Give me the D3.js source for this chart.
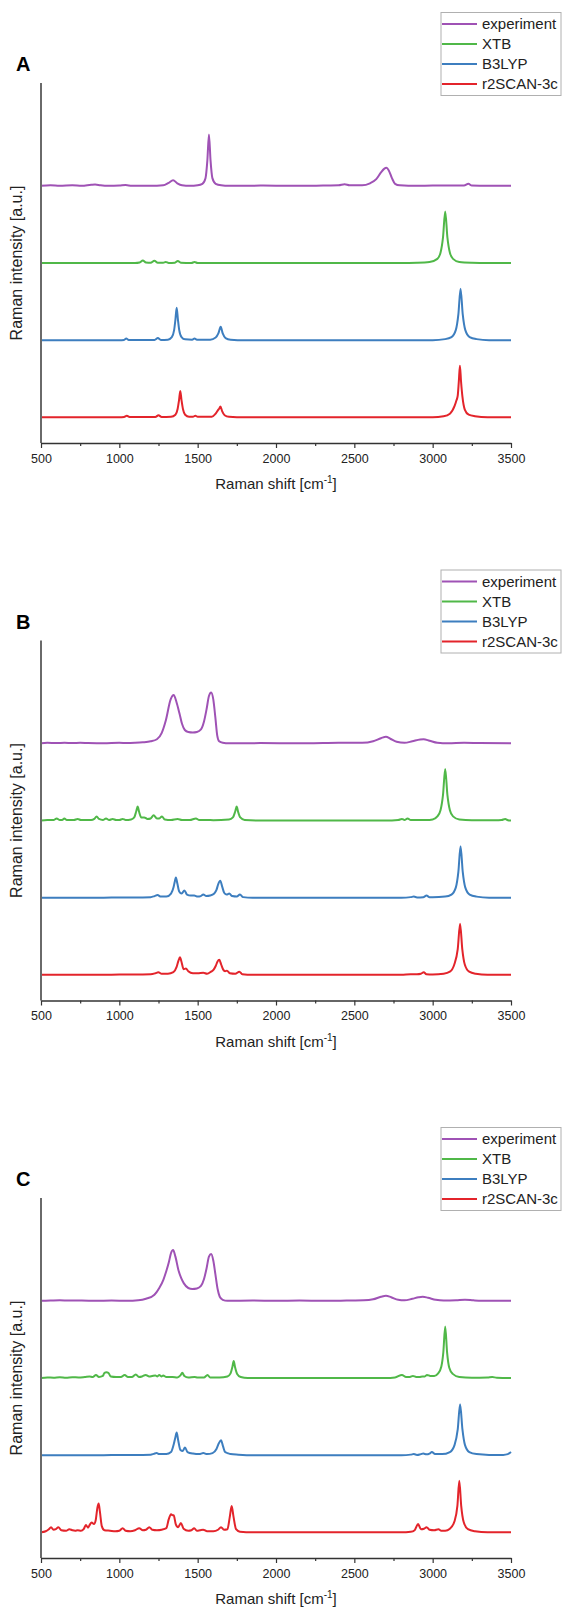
<!DOCTYPE html>
<meta charset="utf-8">
<script src="https://d3js.org/d3.v7.min.js"></script>
<style>
  body { margin: 0; background: #fff; }
  text { font-family: "Liberation Sans", Arial, sans-serif; }
</style>
<div id="chart"></div>
<script>

// ---- data ----
var seriesNames = ["experiment", "XTB", "B3LYP", "r2SCAN-3c"];
var seriesOffsets = [5, 3.5, 2, 0.5];   // vertical stacking of the traces
var panelLabels = ["A", "B", "C"];
var majorTicks = [500, 1000, 1500, 2000, 2500, 3000, 3500];
var minorTicks = [750, 1250, 1750, 2250, 2750, 3250];

// panel A
var expA = [[500,0],[560,0.01],[620,0],[700,0.01],[760,0],[820,0.02],[845,0.025],[880,0.01],[930,0],[1000,0.005],[1040,0.015],[1080,0],[1200,0],[1280,0.01],[1315,0.06],[1343,0.11],[1370,0.05],[1400,0.01],[1450,0],[1500,0.01],[1530,0.04],[1550,0.15],[1562,0.5],[1572,1.0],[1582,0.5],[1594,0.15],[1615,0.04],[1650,0.01],[1700,0],[1900,0.005],[2100,0],[2300,0.005],[2400,0.01],[2438,0.03],[2470,0.01],[2550,0.01],[2600,0.05],[2640,0.13],[2670,0.26],[2690,0.33],[2705,0.35],[2720,0.3],[2740,0.15],[2760,0.04],[2790,0.01],[2900,0],[3000,0.005],[3200,0.005],[3228,0.04],[3250,0.005],[3350,0],[3500,0]];
var xtbA = [[500,0],[1100,0],[1130,0.01],[1150,0.05],[1170,0.01],[1200,0.005],[1224,0.045],[1245,0.005],[1280,0.005],[1296,0.02],[1315,0],[1355,0.005],[1373,0.04],[1392,0.005],[1460,0],[1480,0.02],[1500,0],[2800,0],[2900,0.005],[2980,0.02],[3030,0.08],[3050,0.2],[3066,0.5],[3080,1.0],[3094,0.5],[3110,0.2],[3130,0.08],[3170,0.02],[3250,0.005],[3350,0],[3500,0]];
var b3lypA = [[500,0],[1000,0],[1030,0.005],[1044,0.03],[1060,0.005],[1225,0.005],[1246,0.04],[1265,0.005],[1310,0.01],[1335,0.06],[1350,0.2],[1358,0.4],[1366,0.63],[1374,0.4],[1382,0.2],[1397,0.06],[1420,0.015],[1465,0.01],[1480,0.03],[1495,0.01],[1580,0.01],[1615,0.05],[1632,0.13],[1647,0.26],[1660,0.13],[1678,0.04],[1710,0.01],[1800,0],[3000,0],[3080,0.02],[3120,0.06],[3148,0.2],[3164,0.5],[3178,1.0],[3192,0.5],[3208,0.2],[3236,0.06],[3280,0.02],[3360,0],[3500,0]];
var r2scanA = [[500,0],[1000,0],[1030,0.005],[1048,0.03],[1065,0.005],[1230,0.005],[1250,0.04],[1270,0.005],[1330,0.01],[1358,0.05],[1372,0.16],[1381,0.33],[1389,0.51],[1397,0.33],[1406,0.16],[1420,0.05],[1445,0.01],[1470,0.01],[1485,0.03],[1500,0.01],[1590,0.01],[1612,0.06],[1630,0.14],[1638,0.17],[1645,0.21],[1656,0.12],[1672,0.04],[1700,0.01],[1800,0],[3000,0],[3070,0.02],[3110,0.07],[3140,0.22],[3152,0.33],[3160,0.42],[3167,0.7],[3174,1.0],[3181,0.7],[3190,0.4],[3205,0.15],[3230,0.05],[3270,0.02],[3350,0],[3500,0]];

// panel B
var expB = [[500,0],[540,0.01],[600,0.005],[650,0.01],[700,0.005],[750,0.01],[800,0.005],[900,0],[1000,0.01],[1050,0.005],[1100,0.01],[1150,0.02],[1200,0.04],[1240,0.08],[1270,0.2],[1297,0.45],[1327,0.85],[1347,0.94],[1365,0.8],[1384,0.58],[1400,0.38],[1418,0.26],[1440,0.22],[1469,0.21],[1495,0.22],[1521,0.27],[1540,0.42],[1556,0.65],[1572,0.92],[1586,0.99],[1600,0.85],[1613,0.5],[1625,0.15],[1637,0.04],[1660,0.01],[1700,0],[1900,0.005],[2200,0],[2400,0.01],[2550,0.01],[2620,0.04],[2670,0.1],[2702,0.13],[2730,0.09],[2770,0.03],[2820,0.01],[2870,0.04],[2920,0.075],[2942,0.08],[2980,0.05],[3030,0.01],[3100,0],[3200,0.01],[3300,0.005],[3500,0]];
var xtbB = [[500,0],[540,0.01],[580,0.01],[600,0.04],[620,0.01],[635,0.01],[649,0.04],[665,0.01],[710,0.01],[734,0.03],[755,0.01],[820,0.01],[840,0.03],[855,0.08],[870,0.03],[895,0.01],[915,0.04],[935,0.01],[957,0.03],[980,0.01],[1000,0.01],[1021,0.03],[1040,0.01],[1075,0.02],[1095,0.06],[1108,0.18],[1117,0.27],[1126,0.17],[1140,0.06],[1159,0.06],[1180,0.03],[1200,0.04],[1219,0.1],[1240,0.04],[1255,0.04],[1272,0.08],[1290,0.02],[1330,0.01],[1372,0.03],[1400,0.01],[1450,0.01],[1489,0.04],[1510,0.01],[1560,0.01],[1600,0.005],[1700,0.02],[1725,0.06],[1740,0.18],[1749,0.27],[1758,0.17],[1772,0.06],[1800,0.01],[1900,0],[2700,0],[2780,0.01],[2804,0.03],[2820,0.01],[2840,0.04],[2860,0.01],[2960,0.01],[3000,0.02],[3030,0.08],[3050,0.2],[3066,0.5],[3080,1.0],[3094,0.5],[3110,0.2],[3130,0.08],[3170,0.02],[3250,0.005],[3400,0.005],[3440,0.01],[3463,0.03],[3480,0.005],[3500,0]];
var b3lypB = [[500,0],[900,0],[1000,0.005],[1100,0.005],[1200,0.01],[1225,0.03],[1244,0.05],[1265,0.02],[1300,0.02],[1330,0.08],[1346,0.2],[1353,0.3],[1361,0.39],[1370,0.28],[1382,0.12],[1398,0.08],[1415,0.14],[1432,0.06],[1455,0.04],[1478,0.04],[1500,0.02],[1520,0.03],[1536,0.06],[1555,0.03],[1580,0.04],[1606,0.08],[1620,0.15],[1632,0.27],[1644,0.33],[1656,0.22],[1670,0.09],[1685,0.06],[1702,0.08],[1720,0.03],[1750,0.02],[1770,0.06],[1790,0.01],[1850,0],[2800,0],[2860,0.01],[2880,0.02],[2900,0.005],[2940,0.01],[2961,0.04],[2980,0.01],[3000,0.01],[3080,0.02],[3120,0.06],[3148,0.2],[3164,0.5],[3178,1.0],[3192,0.5],[3208,0.2],[3236,0.06],[3280,0.02],[3360,0],[3500,0]];
var r2scanB = [[500,0],[900,0],[1000,0.005],[1100,0.005],[1200,0.01],[1230,0.03],[1249,0.05],[1270,0.02],[1310,0.02],[1345,0.05],[1365,0.15],[1377,0.27],[1387,0.34],[1397,0.25],[1410,0.11],[1425,0.12],[1440,0.07],[1470,0.03],[1500,0.03],[1536,0.04],[1560,0.02],[1585,0.06],[1602,0.1],[1615,0.17],[1627,0.26],[1638,0.29],[1650,0.2],[1663,0.1],[1675,0.07],[1687,0.08],[1705,0.03],[1740,0.02],[1766,0.06],[1785,0.01],[1850,0],[2800,0],[2860,0.01],[2900,0.01],[2925,0.02],[2943,0.05],[2960,0.01],[3000,0.005],[3070,0.02],[3110,0.06],[3138,0.2],[3160,0.5],[3175,0.99],[3189,0.5],[3205,0.2],[3233,0.06],[3275,0.02],[3350,0],[3500,0]];

// panel C
var expC = [[500,0],[560,0.005],[620,0.01],[680,0.005],[760,0.005],[850,0],[950,0.005],[1050,0],[1120,0.01],[1170,0.04],[1224,0.12],[1255,0.25],[1281,0.41],[1300,0.58],[1316,0.75],[1330,0.93],[1343,0.99],[1358,0.86],[1377,0.6],[1395,0.44],[1412,0.34],[1440,0.25],[1466,0.23],[1495,0.24],[1521,0.29],[1540,0.42],[1556,0.62],[1572,0.86],[1586,0.91],[1600,0.78],[1613,0.52],[1628,0.22],[1641,0.08],[1660,0.02],[1690,0],[1850,0.005],[2000,0],[2150,0.005],[2300,0],[2450,0.005],[2560,0.01],[2620,0.03],[2670,0.08],[2702,0.1],[2735,0.07],[2780,0.02],[2820,0.01],[2870,0.04],[2910,0.07],[2937,0.08],[2970,0.06],[3020,0.02],[3070,0.005],[3150,0.01],[3206,0.02],[3260,0.01],[3350,0],[3500,0]];
var xtbC = [[500,0],[540,0.01],[580,0.005],[620,0.015],[660,0.005],[700,0.015],[740,0.01],[780,0.02],[810,0.03],[830,0.02],[851,0.06],[870,0.02],[895,0.04],[905,0.1],[918,0.11],[930,0.1],[945,0.03],[980,0.02],[1010,0.02],[1034,0.06],[1055,0.02],[1080,0.02],[1105,0.07],[1125,0.02],[1145,0.03],[1168,0.06],[1190,0.03],[1210,0.04],[1230,0.05],[1243,0.03],[1255,0.06],[1268,0.03],[1280,0.05],[1300,0.02],[1340,0.02],[1370,0.01],[1390,0.05],[1402,0.1],[1415,0.04],[1440,0.01],[1480,0.02],[1500,0.01],[1540,0.01],[1563,0.06],[1580,0.01],[1640,0.01],[1690,0.03],[1710,0.09],[1722,0.22],[1730,0.33],[1738,0.22],[1752,0.08],[1775,0.02],[1820,0],[2700,0],[2760,0.01],[2804,0.06],[2830,0.02],[2855,0.02],[2874,0.04],[2895,0.02],[2915,0.02],[2935,0.03],[2950,0.03],[2964,0.06],[2985,0.04],[3010,0.04],[3035,0.09],[3055,0.22],[3068,0.5],[3080,1.0],[3092,0.5],[3106,0.2],[3128,0.08],[3170,0.02],[3250,0.005],[3350,0.01],[3380,0.02],[3410,0.005],[3500,0]];
var b3lypC = [[500,0],[900,0],[1000,0.005],[1100,0.005],[1200,0.01],[1220,0.025],[1238,0.04],[1255,0.02],[1300,0.02],[1330,0.06],[1348,0.22],[1358,0.35],[1366,0.44],[1375,0.3],[1390,0.1],[1405,0.08],[1419,0.15],[1435,0.06],[1470,0.03],[1510,0.02],[1536,0.04],[1560,0.02],[1595,0.04],[1620,0.12],[1635,0.23],[1649,0.29],[1662,0.17],[1675,0.06],[1691,0.04],[1710,0.02],[1760,0.01],[1850,0],[2800,0],[2860,0.01],[2880,0.02],[2900,0.005],[2925,0.02],[2940,0.03],[2960,0.015],[2980,0.03],[2995,0.06],[3015,0.02],[3060,0.02],[3110,0.06],[3140,0.2],[3160,0.5],[3175,0.99],[3190,0.5],[3206,0.2],[3234,0.06],[3280,0.02],[3360,0.005],[3450,0.005],[3480,0.02],[3500,0.06]];
var r2scanC = [[500,0],[530,0.02],[550,0.06],[564,0.1],[580,0.05],[595,0.06],[611,0.1],[630,0.04],[660,0.03],[681,0.06],[700,0.04],[718,0.03],[734,0.04],[755,0.03],[772,0.06],[787,0.14],[800,0.09],[812,0.15],[823,0.19],[838,0.16],[850,0.25],[860,0.48],[868,0.56],[876,0.4],[888,0.12],[905,0.04],[940,0.03],[975,0.02],[1000,0.03],[1021,0.08],[1040,0.03],[1070,0.02],[1100,0.04],[1127,0.08],[1150,0.04],[1170,0.05],[1191,0.1],[1210,0.05],[1240,0.04],[1270,0.05],[1300,0.08],[1315,0.25],[1330,0.35],[1340,0.33],[1347,0.33],[1360,0.16],[1375,0.1],[1393,0.18],[1410,0.07],[1440,0.03],[1460,0.04],[1478,0.08],[1495,0.03],[1515,0.04],[1535,0.05],[1560,0.02],[1600,0.02],[1630,0.05],[1649,0.1],[1668,0.05],[1690,0.06],[1705,0.3],[1717,0.51],[1729,0.3],[1745,0.06],[1770,0.01],[1850,0],[2800,0],[2860,0.01],[2885,0.04],[2907,0.16],[2925,0.06],[2945,0.07],[2961,0.1],[2980,0.05],[3010,0.04],[3037,0.06],[3055,0.03],[3080,0.03],[3110,0.07],[3140,0.22],[3158,0.52],[3170,1.0],[3182,0.52],[3198,0.2],[3225,0.06],[3270,0.02],[3350,0],[3500,0]];

var panels = [
  [expA, xtbA, b3lypA, r2scanA],
  [expB, xtbB, b3lypB, r2scanB],
  [expC, xtbC, b3lypC, r2scanC]
];

// ---- layout ----
var W = 563, H = 1609;
var colors = ["#9f52b5", "#50b848", "#3d7ebf", "#e3242b"];
var left = 41, right = 511, plotH = 360;
var panelStep = 557.5, firstBottom = 443;

var svg = d3.select("#chart").append("svg")
  .attr("width", W)
  .attr("height", H);

var x = d3.scaleLinear().domain([500, 3500]).range([left, right]);

panels.forEach(function(spectra, i) {
  var bottom = firstBottom + i * panelStep;
  var top = bottom - plotH;
  var y = d3.scaleLinear().domain([0, 7]).range([bottom, top]);
  var g = svg.append("g");

  // panel letter
  g.append("text")
    .attr("x", 16)
    .attr("y", bottom - 372)
    .attr("font-size", "20px")
    .attr("font-weight", "bold")
    .text(panelLabels[i]);

  // spectra
  spectra.forEach(function(data, k) {
    var line = d3.line()
      .x(function(d) { return x(d[0]); })
      .y(function(d) { return y(d[1] + seriesOffsets[k]); })
      .curve(d3.curveMonotoneX);
    g.append("path")
      .attr("fill", "none")
      .attr("stroke", colors[k])
      .attr("stroke-width", 2)
      .attr("stroke-linejoin", "round")
      .attr("d", line(data));
  });

  // y axis (no ticks)
  g.append("line")
    .attr("x1", left).attr("x2", left)
    .attr("y1", top).attr("y2", bottom)
    .attr("stroke", "#6a6a6a")
    .attr("stroke-width", 2);

  // x axis
  var xa = g.append("g")
    .attr("transform", "translate(0," + bottom + ")")
    .call(d3.axisBottom(x).tickValues(majorTicks).tickSize(5).tickSizeOuter(0).tickPadding(6).tickFormat(d3.format("d")));
  xa.select(".domain").attr("stroke", "#333").attr("stroke-width", 1.5);
  xa.selectAll(".tick line").attr("stroke", "#333").attr("stroke-width", 1.2);
  xa.selectAll("text").attr("font-size", "12.5px").attr("fill", "#222")
    .attr("font-family", "'Liberation Sans', Arial, sans-serif");

  g.append("g")
    .attr("transform", "translate(0," + bottom + ")")
    .call(d3.axisBottom(x).tickValues(minorTicks).tickSize(3).tickFormat(""))
    .call(function(a) { a.select(".domain").remove(); })
    .selectAll(".tick line").attr("stroke", "#333").attr("stroke-width", 1.2);

  // axis titles
  var xt = g.append("text")
    .attr("x", (left + right) / 2)
    .attr("y", bottom + 46)
    .attr("text-anchor", "middle")
    .attr("font-size", "15px")
    .attr("fill", "#222");
  xt.append("tspan").text("Raman shift [cm");
  xt.append("tspan").attr("font-size", "10px").attr("dy", -6).text("-1");
  xt.append("tspan").attr("dy", 6).text("]");

  g.append("text")
    .attr("transform", "translate(22," + (top + bottom) / 2 + ") rotate(-90)")
    .attr("text-anchor", "middle")
    .attr("font-size", "16px")
    .attr("fill", "#222")
    .text("Raman intensity [a.u.]");

  // legend
  var lgTop = bottom - 430.5, lgLeft = 441;
  var lg = g.append("g");
  lg.append("rect")
    .attr("x", lgLeft).attr("y", lgTop)
    .attr("width", 120).attr("height", 83)
    .attr("fill", "#fff")
    .attr("stroke", "#b0b0b0")
    .attr("stroke-width", 1);
  seriesNames.forEach(function(name, k) {
    var ry = lgTop + 11.5 + 20 * k;
    lg.append("line")
      .attr("x1", lgLeft + 1).attr("x2", lgLeft + 36)
      .attr("y1", ry).attr("y2", ry)
      .attr("stroke", colors[k])
      .attr("stroke-width", 2);
    lg.append("text")
      .attr("x", lgLeft + 41)
      .attr("y", ry)
      .attr("dy", "0.35em")
      .attr("font-size", "15px")
      .attr("fill", "#222")
      .text(name);
  });
});

</script>
